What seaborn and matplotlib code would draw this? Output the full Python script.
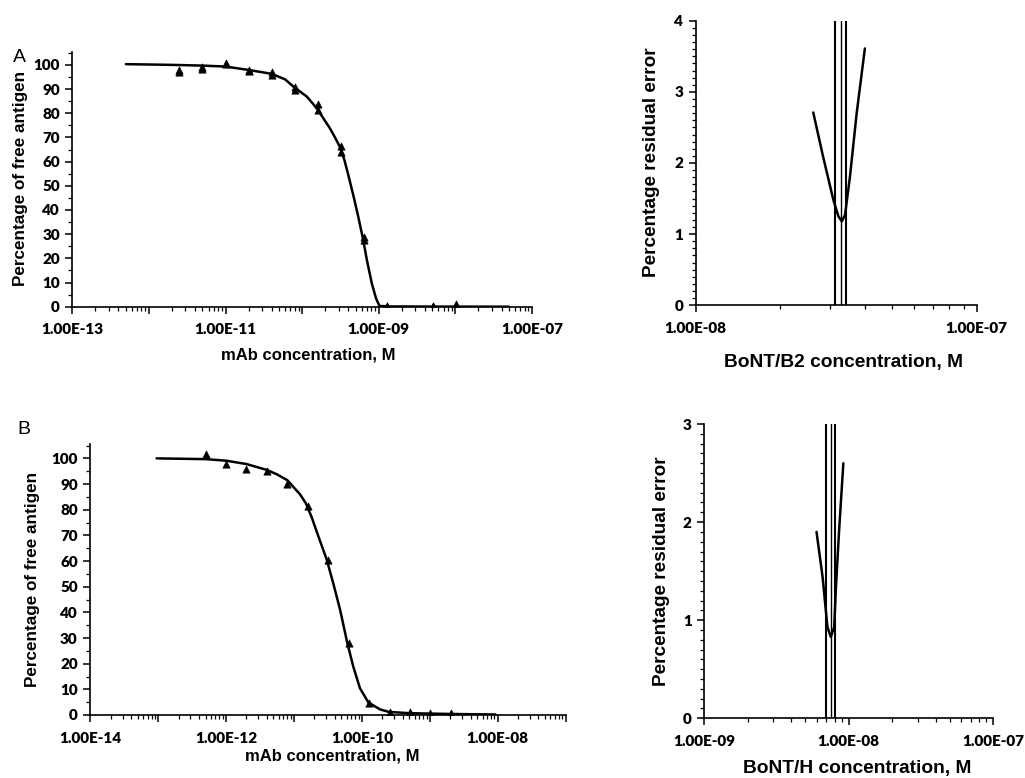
import math
import matplotlib
matplotlib.use("Agg")
import matplotlib.pyplot as plt
import matplotlib.ticker as mticker
import seaborn as sns
import pandas as pd

# ---- panel A: binding data (two replicate series) and fitted curve
conc_a = [2.5e-12, 5e-12, 1e-11, 2e-11, 4e-11, 8e-11, 1.6e-10, 3.2e-10, 6.4e-10, 1.28e-9, 5.12e-9, 1.02e-8]
free_a_rep1 = [98.0, 99.0, 100.7, 97.9, 97.2, 90.8, 83.9, 66.5, 29.0, 0.3, 0.2, 1.1]
free_a_rep2 = [97.2, 98.3, 100.2, 97.4, 96.0, 89.7, 81.4, 64.1, 27.6, 0.1, 0.1, 0.6]
fit_a_x = [5e-13, 2e-12, 5e-12, 1e-11, 2e-11, 4e-11, 6e-11, 7.7e-11, 1.15e-10, 1.55e-10, 2.3e-10, 2.63e-10,
           3.1e-10, 3.55e-10, 4e-10, 4.7e-10, 5.4e-10, 6.2e-10, 7e-10, 8.1e-10, 9.2e-10, 1.02e-9,
           1.5e-9, 5e-9, 5e-8]
fit_a_y = [100.3, 100.0, 99.7, 99.3, 97.9, 96.3, 94.0, 91.0, 86.9, 82.1, 73.8, 70.5,
           66.2, 60.8, 54.5, 45.5, 37.2, 28.3, 19.3, 9.7, 3.5, 0.3,
           0.1, 0.05, 0.0]

# ---- panel B
conc_b = [5e-13, 1e-12, 2e-12, 4e-12, 8e-12, 1.6e-11, 3.2e-11, 6.4e-11, 1.28e-10, 2.56e-10, 5.12e-10, 1.02e-9, 2.05e-9]
free_b = [101.6, 97.8, 96.0, 95.2, 90.0, 81.6, 60.4, 28.2, 4.8, 1.2, 1.0, 0.6, 0.6]
fit_b_x = [9.5e-14, 5e-13, 1e-12, 2e-12, 4e-12, 5.6e-12, 8e-12, 1.23e-11, 1.5e-11, 1.82e-11, 2.17e-11,
           3.04e-11, 3.8e-11, 4.8e-11, 6.1e-11, 7.5e-11, 9.4e-11, 1.25e-10, 1.85e-10, 2.5e-10,
           5.1e-10, 2e-9, 9.3e-9]
fit_b_y = [100.0, 99.7, 99.1, 97.8, 95.5, 93.8, 91.5, 86.0, 82.5, 77.2, 71.4,
           60.6, 51.3, 40.9, 28.2, 18.8, 10.4, 4.9, 2.2, 1.2,
           0.7, 0.4, 0.2]

# ---- residual error scans
res_b2_x = [2.62e-8, 2.84e-8, 3.09e-8, 3.22e-8, 3.31e-8, 3.4e-8, 3.54e-8, 3.74e-8, 4.0e-8]
res_b2_y = [2.71, 2.09, 1.48, 1.25, 1.18, 1.27, 1.81, 2.70, 3.61]
res_b2_lines = [3.13e-8, 3.28e-8, 3.44e-8]

res_h_x = [5.99e-9, 6.6e-9, 7.13e-9, 7.52e-9, 7.94e-9, 8.15e-9, 8.59e-9, 9.19e-9]
res_h_y = [1.90, 1.44, 0.93, 0.83, 0.93, 1.31, 1.92, 2.60]
res_h_lines = [7.0e-9, 7.5e-9, 8.0e-9]

sns.set_theme(style="ticks")
plt.rcParams["font.family"] = ["Lato", "DejaVu Sans"]
plt.rcParams["font.weight"] = "bold"

W, H = 1025, 778
fig = plt.figure(figsize=(W / 100, H / 100), dpi=100)


def box(l, t, r, b):
    return [l / W, 1 - b / H, (r - l) / W, (b - t) / H]


def sci_labels(first_exp, step):
    def fmt(v, pos):
        e = round(math.log10(v))
        if (e - first_exp) % step == 0:
            return f"{v:.2E}"
        return ""
    return fmt


def style_axes(ax, xlim, ylim, first_exp, step, ymaj, ymin):
    ax.set_xscale("log")
    ax.set_xlim(*xlim)
    ax.set_ylim(*ylim)
    sns.despine(ax=ax)
    for s in ["left", "bottom"]:
        ax.spines[s].set_color("black")
        ax.spines[s].set_linewidth(1.2)
    ax.xaxis.set_major_locator(mticker.LogLocator(base=10, numticks=20))
    ax.xaxis.set_minor_locator(mticker.LogLocator(base=10, subs=range(2, 10), numticks=200))
    ax.xaxis.set_major_formatter(mticker.FuncFormatter(sci_labels(first_exp, step)))
    ax.xaxis.set_minor_formatter(mticker.NullFormatter())
    ax.yaxis.set_major_locator(mticker.MultipleLocator(ymaj))
    ax.yaxis.set_minor_locator(mticker.MultipleLocator(ymin))
    ax.tick_params(axis="both", which="major", length=5, width=1.1, color="black",
                   labelsize=11, labelcolor="black", direction="out")
    ax.tick_params(axis="both", which="minor", length=3, width=0.9, color="black", direction="out")
    ax.tick_params(axis="x", which="major", pad=7)
    ax.tick_params(axis="y", which="major", pad=4)
    for lab in ax.get_xticklabels() + ax.get_yticklabels():
        lab.set_fontweight("heavy")
    ax.set_xlabel("")
    ax.set_ylabel("")
    ax.set_facecolor("white")
    ax.grid(False)


lab_font = dict(family=["Liberation Sans", "DejaVu Sans"], fontweight="bold", color="black")
letter_font = dict(family=["Liberation Sans", "DejaVu Sans"], fontweight="normal", color="black")

# ---------------- panel A
ax_a = fig.add_axes(box(72.3, 52.3, 532, 306.7))
sns.lineplot(x=fit_a_x, y=fit_a_y, ax=ax_a, color="black", lw=1.8)
df_a = pd.DataFrame({"conc": conc_a * 2, "free": free_a_rep1 + free_a_rep2})
sns.scatterplot(data=df_a, x="conc", y="free", ax=ax_a, marker="^", s=28, color="black", edgecolor="black")
style_axes(ax_a, (1e-13, 1e-7), (0, 105.2), -13, 2, 10, 5)
fig.text(308 / W, 1 - 355 / H, "mAb concentration, M", ha="center", va="center", fontsize=12, **lab_font)
fig.text(21 / W, 1 - 178 / H, "Percentage of free antigen", ha="center", va="center", rotation=90, fontsize=12.3, **lab_font)
fig.text(19 / W, 1 - 57 / H, "A", ha="center", va="center", fontsize=14, **letter_font)

# ---------------- panel B
ax_b = fig.add_axes(box(90.2, 444, 565.5, 715))
sns.lineplot(x=fit_b_x, y=fit_b_y, ax=ax_b, color="black", lw=1.8)
sns.scatterplot(x=conc_b, y=free_b, ax=ax_b, marker="^", s=28, color="black", edgecolor="black")
style_axes(ax_b, (1e-14, 1e-7), (0, 105.6), -14, 2, 10, 5)
fig.text(332 / W, 1 - 756 / H, "mAb concentration, M", ha="center", va="center", fontsize=12, **lab_font)
fig.text(33 / W, 1 - 579 / H, "Percentage of free antigen", ha="center", va="center", rotation=90, fontsize=12.3, **lab_font)
fig.text(24 / W, 1 - 430 / H, "B", ha="center", va="center", fontsize=14, **letter_font)

# ---------------- residual BoNT/B2
ax_r1 = fig.add_axes(box(695.7, 20.7, 976.7, 305.3))
for i, xv in enumerate(res_b2_lines):
    ax_r1.axvline(xv, color="black", lw=1.0 if i == 1 else 1.5)
sns.lineplot(x=res_b2_x, y=res_b2_y, ax=ax_r1, color="black", lw=1.8)
style_axes(ax_r1, (1e-8, 1e-7), (0, 4), -8, 1, 1, 0.1)
fig.text(843 / W, 1 - 362 / H, "BoNT/B2 concentration, M", ha="center", va="center", fontsize=13.8, **lab_font)
fig.text(652 / W, 1 - 162 / H, "Percentage residual error", ha="center", va="center", rotation=90, fontsize=13.7, **lab_font)

# ---------------- residual BoNT/H
ax_r2 = fig.add_axes(box(704.3, 424, 993, 718.3))
for i, xv in enumerate(res_h_lines):
    ax_r2.axvline(xv, color="black", lw=1.0 if i == 1 else 1.5)
sns.lineplot(x=res_h_x, y=res_h_y, ax=ax_r2, color="black", lw=1.8)
style_axes(ax_r2, (1e-9, 1e-7), (0, 3), -9, 1, 1, 0.1)
fig.text(857 / W, 1 - 768 / H, "BoNT/H concentration, M", ha="center", va="center", fontsize=13.8, **lab_font)
fig.text(662 / W, 1 - 571 / H, "Percentage residual error", ha="center", va="center", rotation=90, fontsize=13.7, **lab_font)

fig.savefig("out.png", dpi=100, facecolor="white")
